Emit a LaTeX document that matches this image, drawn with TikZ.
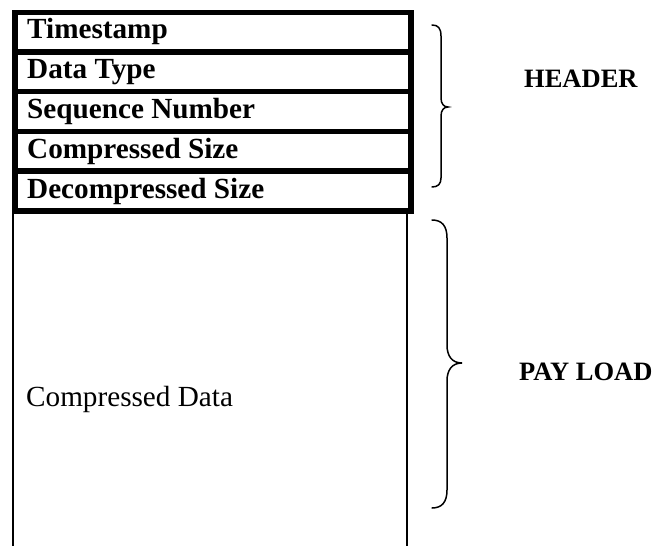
\documentclass[tikz,border=0pt]{standalone}
\usepackage{fontspec}
\setmainfont{Liberation Serif}
\begin{document}
\begin{tikzpicture}[x=1pt,y=-1pt,
  rowbox/.style={draw=black, line width=5.5pt, minimum width=396pt, minimum height=39.7pt, inner sep=0pt, anchor=north west},
  rowtext/.style={anchor=base west, inner sep=0pt, font=\fontsize{29.2}{31}\selectfont\bfseries},
  plainlbl/.style={anchor=base west, inner sep=0pt, font=\fontsize{29.2}{31}\selectfont},
  sidelbl/.style={anchor=base west, inner sep=0pt, font=\fontsize{26.5}{28}\selectfont\bfseries},
  bracestyle/.style={line width=1.5pt, line cap=round},
  wallline/.style={line width=2pt}]
\useasboundingbox (0,0) rectangle (659,546);
% header rows
\node[rowbox] (r1) at (12,9.5) {};
\node[rowbox] (r2) at (12,49.2) {};
\node[rowbox] (r3) at (12,88.9) {};
\node[rowbox] (r4) at (12,128.6) {};
\node[rowbox] (r5) at (12,168.3) {};
\node[rowtext] (t1) at (27,38.7) {Timestamp};
\node[rowtext] (t2) at (27,78.6) {Data Type};
\node[rowtext] (t3) at (27,118.5) {Sequence Number};
\node[rowtext] (t4) at (27,158.4) {Compressed Size};
\node[rowtext] (t5) at (27,198.3) {Decompressed Size};
% payload walls
\coordinate (pl) at (13,546);
\coordinate (pr) at (407,546);
\draw[wallline] (13,210) -- (pl);
\draw[wallline] (407,210) -- (pr);
\node[plainlbl] (cd) at (26,406.7) {Compressed Data};
% braces
\draw[bracestyle] (432,25) .. controls (438,25) and (441,28) .. (441,36) -- (441,98)
  .. controls (441,104) and (444,107) .. (448,107)
  .. controls (444,107) and (441,110) .. (441,116) -- (441,178)
  .. controls (441,184) and (438,187) .. (432,187);
\draw[bracestyle] (432,220) .. controls (442,220) and (447,226) .. (447,238) -- (447,345)
  .. controls (447,356) and (452,363) .. (462,363)
  .. controls (452,363) and (447,370) .. (447,381) -- (447,490)
  .. controls (447,502) and (442,508) .. (432,508);
\node[sidelbl] (hd) at (524,87.3) {HEADER};
\node[sidelbl] (pay) at (519,380) {PAY LOAD};
\end{tikzpicture}
\end{document}
